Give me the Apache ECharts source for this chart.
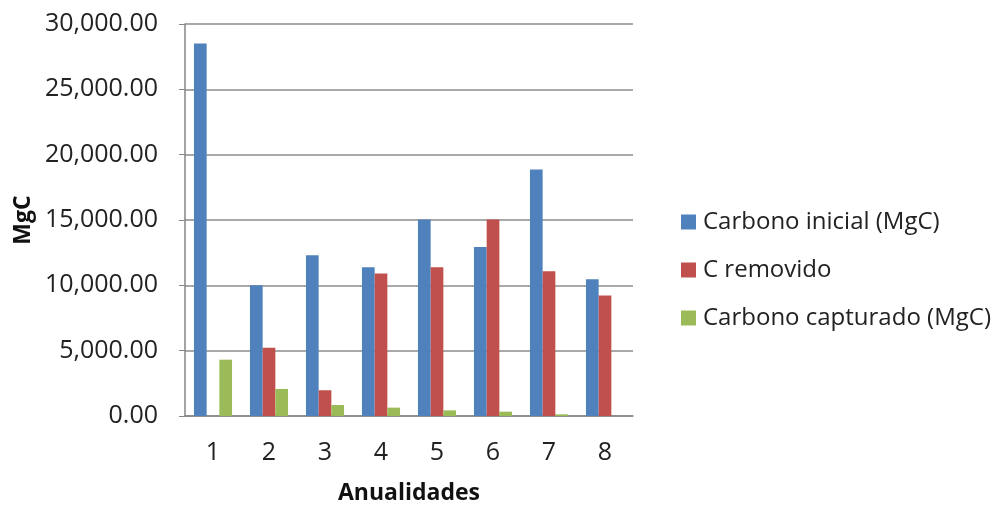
<!DOCTYPE html>
<html>
<head>
<meta charset="utf-8">
<script src="https://cdn.jsdelivr.net/npm/echarts@6/dist/echarts.min.js"></script>
<style>
  html, body { margin: 0; padding: 0; background: #fff; }
  #chart { width: 995px; height: 506px; }
</style>
</head>
<body>
<div id="chart"></div>
<script>
// Annual carbon balance per period (MgC)
const categories = ['1', '2', '3', '4', '5', '6', '7', '8'];
const carbonoInicial = [28500, 10000, 12300, 11390, 15040, 12940, 18870, 10470];
const cRemovido = [0, 5230, 1970, 10900, 11390, 15040, 11080, 9220];
const carbonoCapturado = [4310, 2070, 840, 640, 430, 330, 130, 0];
const seriesNames = ['Carbono inicial (MgC)', 'C removido', 'Carbono capturado (MgC)'];
const seriesColors = ['#4F81BD', '#C0504D', '#9BBB59'];

const FONT = '"Open Sans", "Liberation Sans", sans-serif';
const chart = echarts.init(document.getElementById('chart'), null, { renderer: 'canvas' });

const fmt = v => v.toLocaleString('en-US', { minimumFractionDigits: 2, maximumFractionDigits: 2 });

chart.setOption({
  animation: false,
  backgroundColor: '#ffffff',
  grid: { left: 185, right: 362, top: 24, bottom: 90, containLabel: false, outerBoundsMode: 'none' },
  legend: {
    orient: 'vertical',
    left: 676,
    top: 205,
    itemWidth: 15,
    itemHeight: 15,
    itemGap: 24,
    icon: 'rect',
    textStyle: { fontFamily: FONT, fontSize: 24, color: '#222', padding: [0, 0, 0, 2] },
    data: seriesNames
  },
  xAxis: {
    type: 'category',
    data: categories,
    name: 'Anualidades',
    nameLocation: 'middle',
    nameGap: 66,
    nameTextStyle: { fontFamily: FONT, fontSize: 23, fontWeight: 'bold', color: '#111' },
    axisLine: { show: true, lineStyle: { color: '#868686', width: 1.5 } },
    axisTick: { show: false },
    axisLabel: { fontFamily: FONT, fontSize: 25, color: '#222', margin: 24 }
  },
  yAxis: {
    type: 'value',
    min: 0,
    max: 30000,
    interval: 5000,
    name: 'MgC',
    nameLocation: 'middle',
    nameGap: 150,
    nameRotate: 90,
    nameTextStyle: { fontFamily: FONT, fontSize: 23, fontWeight: 'bold', color: '#111' },
    axisLine: { show: true, lineStyle: { color: '#868686', width: 1.5 } },
    axisTick: { show: true, length: 6, lineStyle: { color: '#868686' } },
    axisLabel: { fontFamily: FONT, fontSize: 25, color: '#222', margin: 27, formatter: fmt },
    splitLine: { show: true, lineStyle: { color: '#8c8c8c', width: 1.5 } }
  },
  series: [
    { name: seriesNames[0], type: 'bar', data: carbonoInicial, itemStyle: { color: seriesColors[0] }, barGap: '0%', barCategoryGap: '32%' },
    { name: seriesNames[1], type: 'bar', data: cRemovido, itemStyle: { color: seriesColors[1] } },
    { name: seriesNames[2], type: 'bar', data: carbonoCapturado, itemStyle: { color: seriesColors[2] } }
  ]
});
</script>
</body>
</html>
